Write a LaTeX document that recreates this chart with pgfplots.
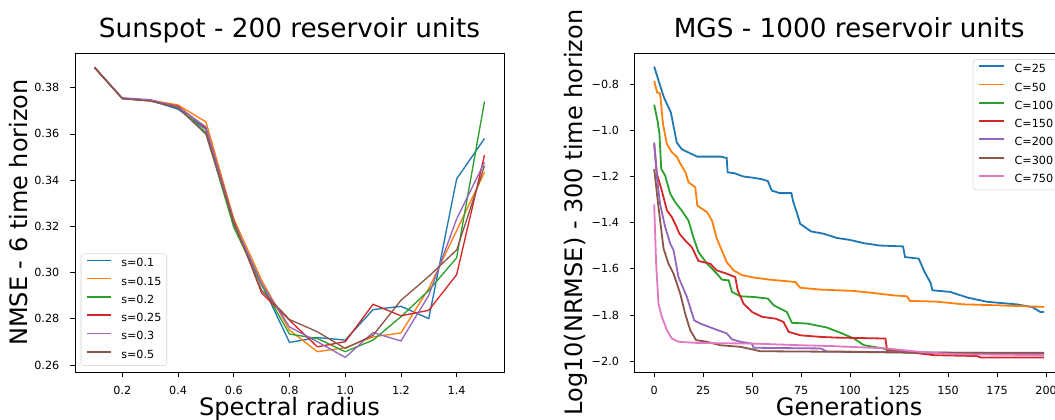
\documentclass[border=0pt]{standalone}
\usepackage{pgfplots}
\pgfplotsset{compat=1.18}
\usepackage{fontspec}
\setmainfont{DejaVu Sans}

\definecolor{c0}{HTML}{1F77B4}
\definecolor{c1}{HTML}{FF7F0E}
\definecolor{c2}{HTML}{2CA02C}
\definecolor{c3}{HTML}{D62728}
\definecolor{c4}{HTML}{9467BD}
\definecolor{c5}{HTML}{8C564B}
\definecolor{c6}{HTML}{E377C2}

\pgfplotstableread{
x    s01    s015   s02    s025   s03    s05
0.1  0.3888 0.3886 0.3887 0.3886 0.3888 0.3889
0.2  0.3754 0.3752 0.3753 0.3754 0.3756 0.3752
0.3  0.3745 0.3746 0.3743 0.3744 0.3748 0.3742
0.4  0.3707 0.3725 0.3715 0.3720 0.3717 0.3713
0.5  0.3620 0.3652 0.3606 0.3625 0.3630 0.3599
0.6  0.3211 0.3232 0.3196 0.3225 0.3218 0.3215
0.7  0.2952 0.2967 0.2945 0.2912 0.2952 0.2923
0.8  0.2698 0.2751 0.2734 0.2794 0.2765 0.2797
0.9  0.2719 0.2658 0.2715 0.2679 0.2701 0.2744
1.0  0.2708 0.2675 0.2658 0.2701 0.2633 0.2672
1.1  0.2840 0.2722 0.2708 0.2863 0.2741 0.2729
1.2  0.2854 0.2739 0.2809 0.2813 0.2704 0.2880
1.3  0.2801 0.2931 0.2923 0.2837 0.2902 0.2984
1.4  0.3405 0.3182 0.3064 0.2991 0.3232 0.3098
1.5  0.3580 0.3434 0.3740 0.3508 0.3477 0.3462
}\sunspot

\pgfplotsset{
  mplstyle/.style={
    scale only axis, width=321.75pt, height=239.25pt, anchor=south west,
    axis line style={black, line width=0.6pt},
    tick align=outside, major tick length=3.4pt,
    tick style={black, line width=0.6pt},
    xtick pos=bottom, ytick pos=left,
    tick label style={font=\fontsize{8.4}{10}\selectfont},
    xticklabel style={inner sep=0pt, anchor=north, yshift=-7.3pt},
    yticklabel style={inner sep=0pt, anchor=east, xshift=-8.2pt},
    title style={font=\fontsize{19.7}{24}\selectfont, at={(0.5,1)}, anchor=base, yshift=5.25pt},
    xlabel style={font=\fontsize{18}{22}\selectfont, at={(0.5,0)}, anchor=base, yshift=-32.7pt},
    ylabel style={font=\fontsize{18}{22}\selectfont, at={(0,0.5)}, anchor=base},
    legend image code/.code={\draw[##1, line width=1.2pt] (0pt,2.7pt) -- (18pt,2.7pt);},
    legend cell align=left,
    legend style={draw=black!18, rounded corners=2.5pt, fill=white,
      font=\fontsize{8.4}{10}\selectfont, inner xsep=4pt, inner ysep=3.8pt, row sep=5.7pt,
      column sep=7pt,
      nodes={inner sep=0pt, text height=6.2pt, text depth=1.8pt}},
  }
}

\begin{document}
\begin{tikzpicture}
\begin{axis}[mplstyle, at={(56.25pt,36pt)},
  xmin=0.03, xmax=1.57, ymin=0.2570, ymax=0.3950,
  xtick={0.2,0.4,0.6,0.8,1.0,1.2,1.4},
  xticklabels={0.2,0.4,0.6,0.8,1.0,1.2,1.4},
  ytick={0.26,0.28,0.30,0.32,0.34,0.36,0.38},
  yticklabels={0.26,0.28,0.30,0.32,0.34,0.36,0.38},
  title={Sunspot - 200 reservoir units},
  xlabel={Spectral radius},
  ylabel={NMSE - 6 time horizon},
  ylabel style={yshift=35.5pt},
  legend style={at={(0,0)}, anchor=south west, xshift=4.3pt, yshift=4.5pt},
  every axis plot/.append style={line width=1pt},
]
\addplot[c0] table[x=x, y=s01] {\sunspot};
\addplot[c1] table[x=x, y=s015] {\sunspot};
\addplot[c2] table[x=x, y=s02] {\sunspot};
\addplot[c3] table[x=x, y=s025] {\sunspot};
\addplot[c4] table[x=x, y=s03] {\sunspot};
\addplot[c5] table[x=x, y=s05] {\sunspot};
\legend{s=0.1, s=0.15, s=0.2, s=0.25, s=0.3, s=0.5}
\end{axis}

\begin{axis}[mplstyle, at={(476pt,36pt)},
  xmin=-9.95, xmax=208.95, ymin=-2.047, ymax=-0.665,
  xtick={0,25,50,75,100,125,150,175,200},
  xticklabels={0,25,50,75,100,125,150,175,200},
  ytick={-2.0,-1.8,-1.6,-1.4,-1.2,-1.0,-0.8},
  yticklabels={−2.0,−1.8,−1.6,−1.4,−1.2,−1.0,−0.8},
  title={MGS - 1000 reservoir units},
  xlabel={Generations},
  ylabel={Log10(NRMSE) - 300 time horizon},
  ylabel style={yshift=39.5pt},
  legend style={at={(0,1)}, anchor=north west, xshift=253.7pt, yshift=-4.7pt},
  legend image code/.code={\draw[#1] (0pt,2.7pt) -- (18.7pt,2.7pt);},
  every axis plot/.append style={line width=1.35pt},
]
\addplot[c0] coordinates {(0,-0.724) (2,-0.778) (5,-0.858) (8.5,-0.922) (11.5,-1.052) (14,-1.081) (16,-1.09) (22,-1.114) (34,-1.114) (37,-1.12) (37.5,-1.182) (41,-1.186) (45.5,-1.2) (51,-1.206) (55,-1.212) (58,-1.22) (60,-1.261) (64,-1.272) (70,-1.272) (71,-1.311) (73,-1.362) (74.5,-1.405) (80,-1.438) (86.5,-1.448) (93,-1.466) (100,-1.475) (107,-1.489) (115,-1.499) (127,-1.503) (128,-1.549) (135,-1.556) (138,-1.614) (141,-1.66) (142,-1.693) (151,-1.70) (160,-1.725) (170,-1.743) (185,-1.754) (193,-1.766) (197,-1.787) (199,-1.787)};
\addplot[c1] coordinates {(0,-0.786) (1.5,-0.836) (3,-0.84) (4.5,-0.973) (6.5,-1.059) (9,-1.095) (11.5,-1.114) (13,-1.139) (16,-1.182) (17.5,-1.225) (21,-1.247) (22,-1.326) (27,-1.355) (29.5,-1.391) (32,-1.47) (34.5,-1.52) (37,-1.571) (40.5,-1.607) (45,-1.628) (51,-1.638) (59,-1.647) (72,-1.657) (74.5,-1.682) (85,-1.69) (102,-1.696) (112,-1.705) (122,-1.715) (129,-1.719) (130.5,-1.739) (144,-1.742) (158,-1.754) (175,-1.758) (199,-1.765)};
\addplot[c2] coordinates {(0,-0.889) (1.7,-0.958) (2.7,-1.016) (3.6,-1.167) (5.6,-1.196) (8.2,-1.275) (10.7,-1.311) (14,-1.347) (17.5,-1.391) (20,-1.463) (22.6,-1.527) (27,-1.578) (32,-1.621) (34.6,-1.647) (38,-1.65) (39.7,-1.70) (44,-1.719) (51,-1.722) (58,-1.729) (61,-1.758) (67.7,-1.787) (70.3,-1.834) (78,-1.837) (88,-1.854) (95,-1.877) (102,-1.902) (107,-1.931) (117,-1.945) (120,-1.955) (128,-1.962) (160,-1.965) (199,-1.970)};
\addplot[c3] coordinates {(0,-1.059) (1.4,-1.189) (3.9,-1.261) (6.5,-1.347) (9,-1.376) (10.7,-1.405) (12.9,-1.448) (15.8,-1.477) (19.2,-1.506) (22.6,-1.566) (28.6,-1.578) (32,-1.607) (37,-1.621) (41.4,-1.636) (42.6,-1.693) (45.6,-1.751) (50,-1.787) (55,-1.808) (62,-1.816) (66,-1.83) (68.6,-1.873) (74.6,-1.888) (85,-1.895) (93,-1.898) (118,-1.902) (118.8,-1.95) (125.6,-1.952) (129,-1.96) (142.6,-1.974) (164.8,-1.978) (166.5,-1.984) (199,-1.984)};
\addplot[c4] coordinates {(0,-1.052) (1.4,-1.203) (3,-1.319) (5.6,-1.419) (8.2,-1.491) (9.9,-1.52) (12.4,-1.636) (16.7,-1.722) (20.4,-1.823) (23.5,-1.837) (30.3,-1.859) (37.1,-1.88) (39.7,-1.906) (44,-1.916) (49.9,-1.924) (50.7,-1.942) (85,-1.945) (88,-1.958) (130,-1.962) (199,-1.966)};
\addplot[c5] coordinates {(0,-1.167) (2.2,-1.333) (4.8,-1.513) (7.3,-1.578) (9.9,-1.621) (13.3,-1.708) (15.8,-1.794) (18.4,-1.866) (21.4,-1.909) (27,-1.916) (33.7,-1.931) (44,-1.938) (50.7,-1.95) (54,-1.957) (102,-1.960) (136,-1.964) (199,-1.964)};
\addplot[c6] coordinates {(0,-1.321) (1,-1.578) (2.2,-1.751) (3.9,-1.808) (6.5,-1.866) (9,-1.902) (12.4,-1.916) (21.8,-1.921) (50.7,-1.924) (74.6,-1.931) (91.6,-1.935) (118.8,-1.945) (135.8,-1.96) (152.9,-1.97) (199,-1.974)};
\legend{C=25, C=50, C=100, C=150, C=200, C=300, C=750}
\end{axis}
\pgfresetboundingbox
\path[use as bounding box] (0,0) rectangle (791.25pt,315pt);
\end{tikzpicture}
\end{document}
